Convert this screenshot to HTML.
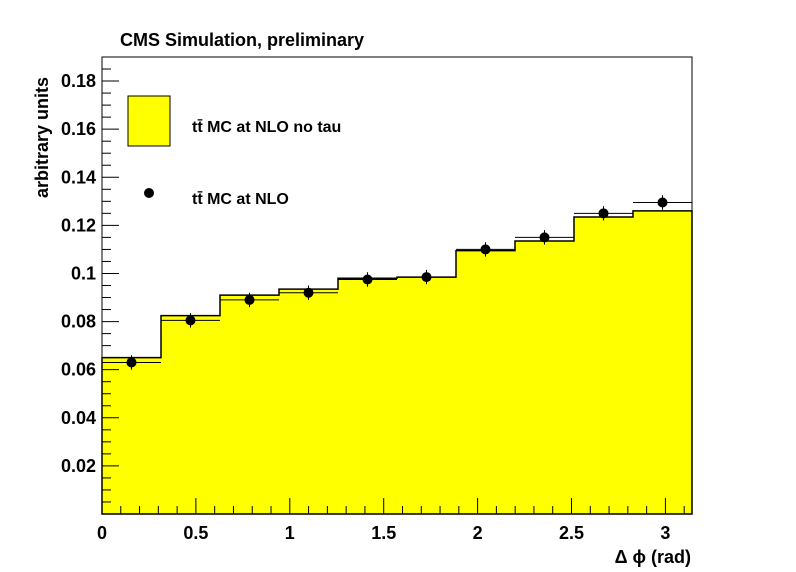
<!DOCTYPE html>
<html><head><meta charset="utf-8"><style>
html,body{margin:0;padding:0;background:#fff}
svg{display:block;font-family:"Liberation Sans",Arial,sans-serif;font-weight:bold}
</style></head><body>
<svg id="c" width="796" height="572" viewBox="0 0 796 572">
<text x="120" y="46" font-size="18">CMS Simulation, preliminary</text>
<g id="plot"></g>
<text x="48" y="198" font-size="18" transform="rotate(-90 48 198)" text-anchor="start">arbitrary units</text>
<text x="691" y="563" font-size="18" text-anchor="end">Δ ϕ (rad)</text>
<g>
<rect x="128" y="96" width="42" height="50" fill="#ffff00" stroke="#000" stroke-width="1"/>
<text x="192" y="132" font-size="16">tt̄ MC at NLO no tau</text>
<circle cx="149" cy="193" r="5" fill="#000"/>
<text x="192" y="204" font-size="16">tt̄ MC at NLO</text>
</g>
</svg>
<script>
const histValues=[0.065,0.0825,0.091,0.0935,0.098,0.0985,0.1095,0.1135,0.1235,0.126];
const pointValues=[0.063,0.0805,0.089,0.092,0.0975,0.0985,0.11,0.115,0.125,0.1295];
const pointErrors=[0.003,0.003,0.003,0.003,0.003,0.003,0.003,0.003,0.003,0.003];
const xTickLabels=["0","0.5","1","1.5","2","2.5","3"];
const yTickLabels=["0.02","0.04","0.06","0.08","0.1","0.12","0.14","0.16","0.18"];
const NS="http://www.w3.org/2000/svg";
const L=102,R=692,T=57,B=514,XMAX=Math.PI,YMAX=0.19;
const xs=v=>L+v/XMAX*(R-L), ys=v=>B-v/YMAX*(B-T);
const g=document.getElementById('plot');
function mk(t,a){const e=document.createElementNS(NS,t);for(const k in a)e.setAttribute(k,a[k]);g.appendChild(e);return e;}
const n=histValues.length,w=XMAX/n;
let d='M'+xs(0)+','+B;
histValues.forEach((v,i)=>{d+=' L'+xs(i*w)+','+ys(v)+' L'+xs((i+1)*w)+','+ys(v);});
d+=' L'+xs(XMAX)+','+B+' Z';
let h=mk('path',{d:d,fill:'#ffff00',stroke:'#000','stroke-width':1.5});


pointValues.forEach((v,i)=>{
 const cx=xs((i+0.5)*w),cy=ys(v);
 let l1=mk('line',{x1:xs(i*w),x2:xs((i+1)*w),y1:cy,y2:cy,stroke:'#000','stroke-width':1});
 
 
 let l2=mk('line',{x1:cx,x2:cx,y1:ys(v-pointErrors[i]),y2:ys(v+pointErrors[i]),stroke:'#000','stroke-width':1});
 
 
 let c=mk('circle',{cx:cx,cy:cy,r:5,fill:'#000'});
 
 
});
let f=mk('rect',{x:L,y:T,width:R-L,height:B-T,fill:'none',stroke:'#000','stroke-width':1});


for(let k=0;k<=31;k++){const x=xs(k*0.1);const major=k%5===0;
 let t=mk('line',{x1:x,x2:x,y1:B,y2:B-(major?16:8),stroke:'#000','stroke-width':1});
 
 }
xTickLabels.forEach(s=>{let t=mk('text',{x:xs(parseFloat(s)),y:B+25,'font-size':18,'text-anchor':'middle'});t.textContent=s;
 
 });
for(let k=0;k<=38;k++){const y=ys(k*0.005);const major=k%4===0;
 let t=mk('line',{x1:L,x2:L+(major?17:9),y1:y,y2:y,stroke:'#000','stroke-width':1});
 
 }
yTickLabels.forEach(s=>{let t=mk('text',{x:L-6,y:ys(parseFloat(s))+6,'font-size':18,'text-anchor':'end'});t.textContent=s;
 
 });
</script>
</body></html>
